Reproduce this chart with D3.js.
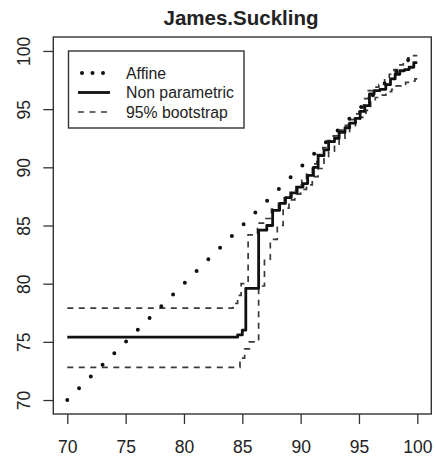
<!DOCTYPE html>
<html>
<head>
<meta charset="utf-8">
<script src="https://cdn.jsdelivr.net/npm/d3@7"></script>
<style>
  html, body { margin: 0; padding: 0; background: #fff; }
  svg text { font-family: "Liberation Sans", Arial, Helvetica, sans-serif; fill: #222; }
</style>
</head>
<body>
<svg id="chart" width="436" height="465"></svg>
<script>
// Affine fit (identity mapping)
const affX = [70, 100];
const affY = [70, 100];

// Non parametric mapping (step function)
const npX = [70, 84.6, 85.0, 85.3, 86.4, 87.1, 87.6, 88.2, 88.7, 89.2, 89.7, 90.2, 90.6, 91.1, 91.5, 92.0, 92.4, 92.9, 93.3, 93.8, 94.2, 94.7, 95.1, 95.5, 95.9, 96.3, 96.8, 97.3, 97.7, 98.1, 98.5, 98.9, 99.3, 99.7, 100];
const npY = [75.4, 75.6, 76.0, 79.6, 84.6, 85.0, 86.3, 86.9, 87.4, 87.8, 88.3, 88.6, 89.3, 90.0, 91.0, 91.5, 92.2, 92.5, 93.0, 93.4, 93.8, 94.2, 94.8, 95.3, 96.3, 96.6, 96.7, 97.1, 97.6, 98.0, 98.3, 98.4, 98.6, 99.0, 99.0];

// 95% bootstrap band, upper bound
const upX = [70, 84.2, 84.6, 84.9, 85.5, 86.3, 86.9, 87.5, 88.1, 88.6, 89.1, 89.6, 90.1, 90.5, 91.0, 91.4, 91.9, 92.3, 92.8, 93.2, 93.7, 94.1, 94.6, 95.0, 95.4, 95.8, 96.3, 96.7, 97.2, 97.6, 98.0, 98.4, 98.8, 99.2, 99.6, 100];
const upY = [77.9, 78.3, 79.0, 80.0, 84.2, 85.2, 85.6, 86.4, 87.0, 87.5, 88.0, 88.5, 88.9, 89.5, 90.3, 91.1, 91.7, 92.3, 92.7, 93.2, 93.6, 94.1, 94.6, 95.1, 95.9, 96.6, 96.9, 97.1, 97.6, 98.0, 98.4, 98.8, 99.1, 99.4, 99.6, 99.6];

// 95% bootstrap band, lower bound
const loX = [70, 84.8, 85.2, 85.6, 86.0, 86.4, 86.9, 87.4, 88.0, 88.5, 89.0, 89.5, 90.0, 90.5, 91.0, 91.5, 92.0, 92.4, 92.9, 93.3, 93.8, 94.2, 94.7, 95.1, 95.6, 96.0, 96.4, 96.9, 97.3, 97.8, 98.2, 98.6, 99.0, 99.4, 99.8, 100];
const loY = [72.8, 73.6, 74.4, 75.0, 75.2, 79.8, 82.0, 83.8, 85.0, 86.5, 87.2, 87.7, 88.1, 88.5, 89.2, 89.9, 90.8, 91.4, 92.0, 92.5, 93.0, 93.4, 93.9, 94.3, 94.9, 95.7, 96.0, 96.2, 96.5, 96.7, 97.0, 97.1, 97.3, 97.4, 97.6, 97.6];

const xTicks = [70, 75, 80, 85, 90, 95, 100];
const yTicks = [70, 75, 80, 85, 90, 95, 100];
const legendLabels = ["Affine", "Non parametric", "95% bootstrap"];
const chartTitle = "James.Suckling";

const svg = d3.select("#chart");

const x = d3.scaleLinear().domain([68.8, 101.2]).range([53.3, 431.3]);
const y = d3.scaleLinear().domain([68.8, 101.2]).range([414, 37]);

const zip = (xs, ys) => xs.map((v, i) => [v, ys[i]]);

// title
svg.append("text")
  .attr("x", 241).attr("y", 25)
  .attr("text-anchor", "middle")
  .style("font-size", "20.5px").style("font-weight", "bold")
  .text(chartTitle);

// axes
const xAxis = svg.append("g")
  .attr("transform", `translate(0,${y.range()[0]})`)
  .call(d3.axisBottom(x).tickValues(xTicks).tickSize(10).tickPadding(17));
xAxis.select(".domain").remove();
xAxis.selectAll("line").attr("stroke", "#333").attr("stroke-width", 1.3);
xAxis.selectAll("text").style("font-size", "17.5px").attr("fill", "#2a2a2a")
  .style("font-family", '"Liberation Sans", Arial, sans-serif');

const yAxis = svg.append("g")
  .attr("transform", `translate(${x.range()[0]},0)`)
  .call(d3.axisLeft(y).tickValues(yTicks).tickSize(10));
yAxis.select(".domain").remove();
yAxis.selectAll("line").attr("stroke", "#333").attr("stroke-width", 1.3);
yAxis.selectAll("text")
  .attr("x", 0).attr("y", 0).attr("dy", null)
  .attr("text-anchor", "middle")
  .attr("transform", "translate(-23,0) rotate(-90)")
  .style("font-size", "17.5px").attr("fill", "#2a2a2a")
  .style("font-family", '"Liberation Sans", Arial, sans-serif');

// plot box
svg.append("rect")
  .attr("x", x.range()[0]).attr("y", y.range()[1])
  .attr("width", x.range()[1] - x.range()[0])
  .attr("height", y.range()[0] - y.range()[1])
  .attr("fill", "none").attr("stroke", "#333").attr("stroke-width", 1.4);

const stepLine = d3.line().x(d => x(d[0])).y(d => y(d[1])).curve(d3.curveStepAfter);
const straight = d3.line().x(d => x(d[0])).y(d => y(d[1]));

// bootstrap bounds
[zip(upX, upY), zip(loX, loY)].forEach(pts => {
  svg.append("path")
    .attr("d", stepLine(pts))
    .attr("fill", "none").attr("stroke", "#3a3a3a")
    .attr("stroke-width", 1.7)
    .attr("stroke-dasharray", "6,5.5");
});

// non parametric
svg.append("path")
  .attr("d", stepLine(zip(npX, npY)))
  .attr("fill", "none").attr("stroke", "#111")
  .attr("stroke-width", 2.8)
  .attr("stroke-linejoin", "round");

// affine
svg.append("path")
  .attr("d", straight(zip(affX, affY)))
  .attr("fill", "none").attr("stroke", "#111")
  .attr("stroke-width", 4)
  .attr("stroke-linecap", "round")
  .attr("stroke-dasharray", "0,16.6");

// legend
const lg = svg.append("g");
lg.append("rect")
  .attr("x", 68.5).attr("y", 51).attr("width", 175.5).attr("height", 77)
  .attr("fill", "#fff").attr("stroke", "#333").attr("stroke-width", 1.4);
const rowY = [73, 92.5, 112];
const legendStyles = [
  { w: 4, dash: "0,10.5", cap: "round", col: "#111", x1: 82, x2: 104 },
  { w: 2.8, dash: null, cap: "butt", col: "#111", x1: 78, x2: 110 },
  { w: 1.7, dash: "6,5.5", cap: "butt", col: "#3a3a3a", x1: 78, x2: 110 }
];
legendLabels.forEach((lab, i) => {
  const s = legendStyles[i];
  lg.append("line")
    .attr("x1", s.x1).attr("x2", s.x2).attr("y1", rowY[i]).attr("y2", rowY[i])
    .attr("stroke", s.col).attr("stroke-width", s.w)
    .attr("stroke-linecap", s.cap)
    .attr("stroke-dasharray", s.dash);
  lg.append("text")
    .attr("x", 126).attr("y", rowY[i]).attr("dy", "0.36em")
    .style("font-size", "15.8px")
    .text(lab);
});
</script>
</body>
</html>
